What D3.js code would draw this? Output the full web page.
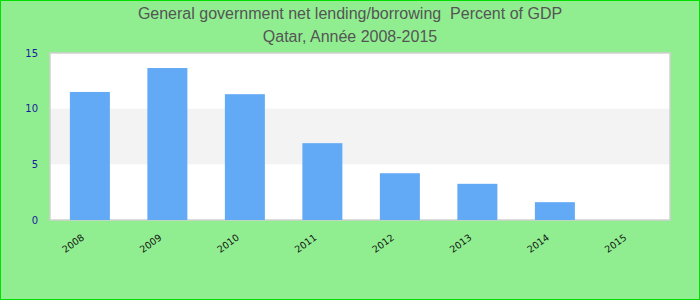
<!DOCTYPE html>
<html><head><meta charset="utf-8">
<script src="https://cdn.jsdelivr.net/npm/d3@7"></script>
<style>body{margin:0;}svg{display:block;}</style>
</head><body>
<script>
const categories = ["2008","2009","2010","2011","2012","2013","2014","2015"];
const values = [11.5, 13.65, 11.3, 6.9, 4.2, 3.25, 1.6, 0];
const yTicks = [0, 5, 10, 15];
const titleLines = ["General government net lending/borrowing  Percent of GDP", "Qatar, Année 2008-2015"];

const W = 700, H = 300;
const m = {left: 50, right: 30, top: 53, bottom: 80};
const svg = d3.select("body").append("svg").attr("width", W).attr("height", H);
svg.append("rect").attr("x",0.5).attr("y",0.5).attr("width",W-1).attr("height",H-1)
  .attr("fill","#90ee90").attr("stroke","#00e000");

const x = d3.scaleBand().domain(categories).range([m.left, W - m.right])
  .paddingInner(0.484).paddingOuter(0.242).align(0.53);
const y = d3.scaleLinear().domain([0, 15]).range([H - m.bottom, m.top]);

svg.append("rect").attr("x", m.left).attr("y", m.top).attr("width", W - m.left - m.right)
  .attr("height", H - m.top - m.bottom).attr("fill", "#fff");
svg.append("rect").attr("x", m.left).attr("y", y(10)).attr("width", W - m.left - m.right)
  .attr("height", y(5) - y(10)).attr("fill", "#f3f3f3");
svg.append("rect").attr("x", m.left).attr("y", m.top).attr("width", W - m.left - m.right)
  .attr("height", H - m.top - m.bottom).attr("fill", "none").attr("stroke", "#d0d0d0").attr("stroke-width",1.5);

svg.selectAll("rect.bar").data(values).join("rect").attr("class","bar")
  .attr("x", (d,i) => x(categories[i])).attr("width", x.bandwidth())
  .attr("y", d => y(d)).attr("height", d => y(0) - y(d)).attr("fill", "#62a9f6");

const ya = svg.append("g").attr("transform", `translate(${m.left - 10},0)`)
  .call(d3.axisLeft(y).tickValues(yTicks).tickSize(0).tickPadding(2));
ya.select(".domain").remove();
ya.selectAll("text").attr("fill", "#1a1aa0").attr("font-family", "DejaVu Sans, sans-serif").attr("font-size", 10);

const xa = svg.append("g").attr("transform", `translate(0,${H - m.bottom})`)
  .call(d3.axisBottom(x).tickSize(0).tickPadding(0));
xa.select(".domain").remove();
xa.selectAll("text").attr("fill", "#111").attr("font-family", "DejaVu Sans, sans-serif").attr("font-size", 9.5)
  .attr("text-anchor", "end").attr("dy", 0)
  .attr("transform", "translate(-5,19) rotate(-36)");

svg.selectAll("text.title").data(titleLines).join("text").attr("class","title")
  .attr("x", W/2).attr("y", (d,i) => 19 + i*23).attr("text-anchor","middle")
  .attr("xml:space","preserve").style("white-space","pre")
  .attr("font-family","Liberation Sans, Arial, sans-serif").attr("font-size",16).attr("fill","#555")
  .text(d => d);
</script>
</body></html>
